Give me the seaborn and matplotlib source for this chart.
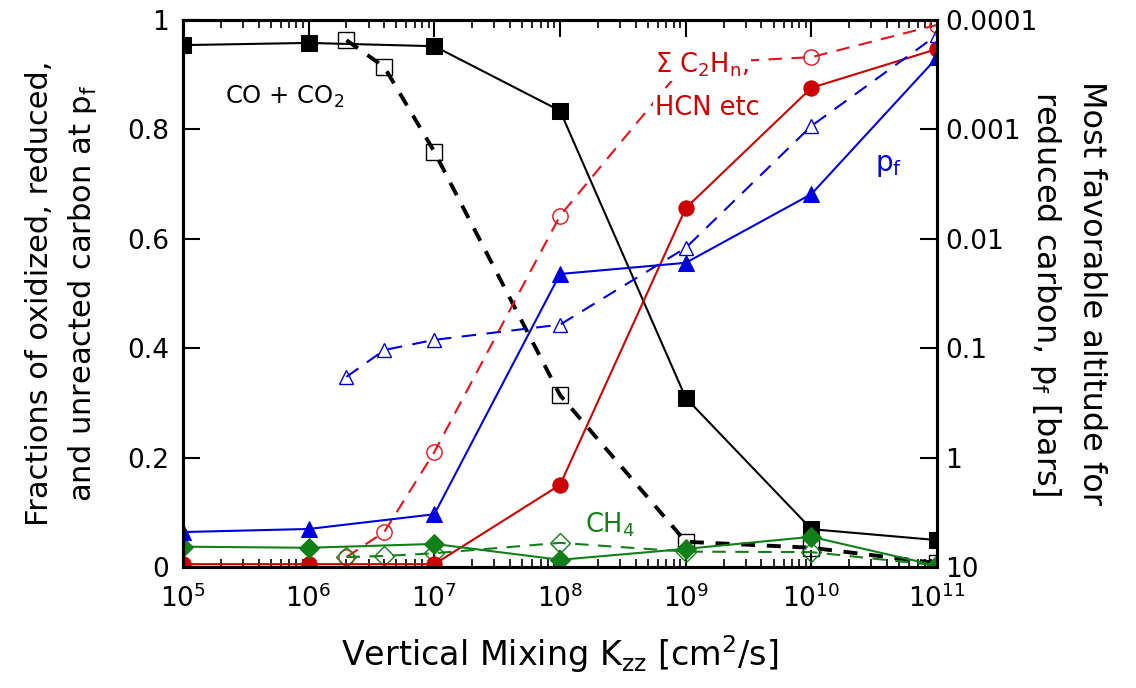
import matplotlib
matplotlib.use('Agg')
import matplotlib.pyplot as plt
import matplotlib.ticker as mticker
import seaborn as sns
import pandas as pd

# Kzz grid (cm^2/s)
kzz_main = [1e5, 1e6, 1e7, 1e8, 1e9, 1e10, 1e11]
kzz_alt = [2e6, 4e6, 1e7, 1e8, 1e9, 1e10, 1e11]

# fractions (left axis), filled symbols
co_co2 = [0.954, 0.958, 0.952, 0.834, 0.309, 0.069, 0.049]
c2hn_hcn = [0.005, 0.005, 0.005, 0.150, 0.656, 0.876, 0.947]
ch4 = [0.037, 0.035, 0.042, 0.013, 0.033, 0.055, 0.002]
# fractions (left axis), open symbols
co_co2_alt = [0.963, 0.914, 0.759, 0.314, 0.046, 0.035, 0.007]
c2hn_hcn_alt = [0.018, 0.064, 0.210, 0.642, 0.920, 0.932, 0.991]
ch4_alt = [0.018, 0.020, 0.025, 0.044, 0.028, 0.027, 0.003]

# p_f in bars (right axis)
pf = [4.8, 4.5, 3.3, 0.021, 0.0166, 0.0039, 0.00022]
pf_alt = [0.183, 0.104, 0.084, 0.061, 0.0121, 0.00093, 0.000137]

left_ticks = [0, 0.2, 0.4, 0.6, 0.8, 1]
left_labels = ['0', '0.2', '0.4', '0.6', '0.8', '1']
right_ticks = [10, 1, 0.1, 0.01, 0.001, 0.0001]
right_labels = ['10', '1', '0.1', '0.01', '0.001', '0.0001']

RED = '#cc0000'
RED2 = '#e8101a'
BLUE = '#0000dd'
GREEN = '#118018'

sns.set_style('white')
plt.rcParams['font.family'] = ['DejaVu Sans']
plt.rcParams['mathtext.fontset'] = 'dejavusans'
plt.rcParams['text.color'] = 'black'
plt.rcParams['axes.labelcolor'] = 'black'
plt.rcParams['xtick.color'] = 'black'
plt.rcParams['ytick.color'] = 'black'

fig = plt.figure(figsize=(11.36, 6.88), dpi=100)
ax = fig.add_axes([0.161, 0.176, 0.664, 0.795])
ax2 = ax.twinx()


def draw(axis, x, y, color, marker, ms, ls, lw, filled=True):
    df = pd.DataFrame({'x': x, 'y': y})
    kw = dict(color=color, marker=marker, markersize=ms, linewidth=lw, linestyle=ls)
    if filled:
        kw.update(markerfacecolor=color, markeredgecolor=color)
    else:
        kw.update(markerfacecolor='none', markeredgecolor=color, markeredgewidth=1.0)
    sns.lineplot(data=df, x='x', y='y', ax=axis, **kw)


# open-symbol (dashed) series
draw(ax, kzz_alt, co_co2_alt, 'black', 's', 11, (0, (3.6, 3)), 2.8, filled=False)
draw(ax, kzz_alt, c2hn_hcn_alt, RED2, 'o', 11, (0, (6.5, 4.5)), 1.5, filled=False)
draw(ax, kzz_alt, ch4_alt, GREEN, 'D', 10, (0, (6.5, 4.5)), 1.5, filled=False)
# filled-symbol (solid) series
draw(ax, kzz_main, co_co2, 'black', 's', 11.5, '-', 1.5)
draw(ax, kzz_main, c2hn_hcn, RED, 'o', 11, '-', 1.5)
draw(ax, kzz_main, ch4, GREEN, 'D', 10, '-', 1.5)

draw(ax2, kzz_alt, pf_alt, BLUE, '^', 10, (0, (7, 5)), 1.5, filled=False)
draw(ax2, kzz_main, pf, BLUE, '^', 11, '-', 1.5)

ax.set_xscale('log')
ax.set_xlim(1e5, 1e11)
ax.set_ylim(0, 1)
ax.set_yticks(left_ticks)
ax.set_yticklabels(left_labels)
ax.xaxis.set_major_locator(mticker.LogLocator(base=10, numticks=10))
ax.xaxis.set_minor_locator(mticker.LogLocator(base=10, subs=range(2, 10), numticks=100))

ax2.set_yscale('log')
ax2.set_ylim(10, 1e-4)
ax2.set_yticks(right_ticks)
ax2.set_yticklabels(right_labels)
ax2.yaxis.set_minor_locator(mticker.NullLocator())

for a in (ax, ax2):
    for s in a.spines.values():
        s.set_linewidth(2.2)
        s.set_color('black')
    a.set_xlabel('')
    a.set_ylabel('')

ax.tick_params(axis='x', which='major', direction='in', length=12, width=1.5,
               top=True, bottom=True, labelsize=19, pad=13)
ax.tick_params(axis='x', which='minor', direction='in', length=6, width=1.2,
               top=True, bottom=True)
ax.tick_params(axis='y', which='major', direction='in', length=12, width=1.5,
               left=True, right=False, labelsize=19, pad=10)
ax2.tick_params(axis='y', which='major', direction='in', length=12, width=1.5,
                labelsize=19, pad=6)

ax.set_xlabel('Vertical Mixing $\\mathregular{K_{zz}}$ [cm$^\\mathregular{2}$/s]',
              fontsize=24, labelpad=14)
ax.set_ylabel('Fractions of oxidized, reduced,\nand unreacted carbon at $\\mathregular{p_f}$',
              fontsize=22, labelpad=20, linespacing=1.5)
ax2.set_ylabel('Most favorable altitude for\nreduced carbon, $\\mathregular{p_f}$ [bars]',
               fontsize=23, rotation=270, labelpad=50, linespacing=1.5)

box = dict(facecolor='white', edgecolor='none', pad=1.5)
tr = ax.transData
ax2.text(2.16e5, 0.86, 'CO + CO$\\mathregular{_2}$', transform=tr, fontsize=17.5, color='black',
         ha='left', va='center', bbox=box, zorder=10)
ax2.text(5.7e8, 0.918, '$\\mathregular{\\Sigma}$ C$\\mathregular{_2}$H$\\mathregular{_n}$,',
         transform=tr, fontsize=18.5, color=RED,
         ha='left', va='center', bbox=box, zorder=10)
ax2.text(5.7e8, 0.839, 'HCN etc', transform=tr, fontsize=18.5, color=RED,
         ha='left', va='center', bbox=box, zorder=10)
ax2.text(3.2e10, 0.735, '$\\mathregular{p_f}$', transform=tr, fontsize=20, color=BLUE,
         ha='left', va='center', zorder=10)
ax2.text(1.58e8, 0.077, 'CH$\\mathregular{_4}$', transform=tr, fontsize=18.5, color=GREEN,
         ha='left', va='center', bbox=box, zorder=10)

fig.savefig('out.png', dpi=100)
